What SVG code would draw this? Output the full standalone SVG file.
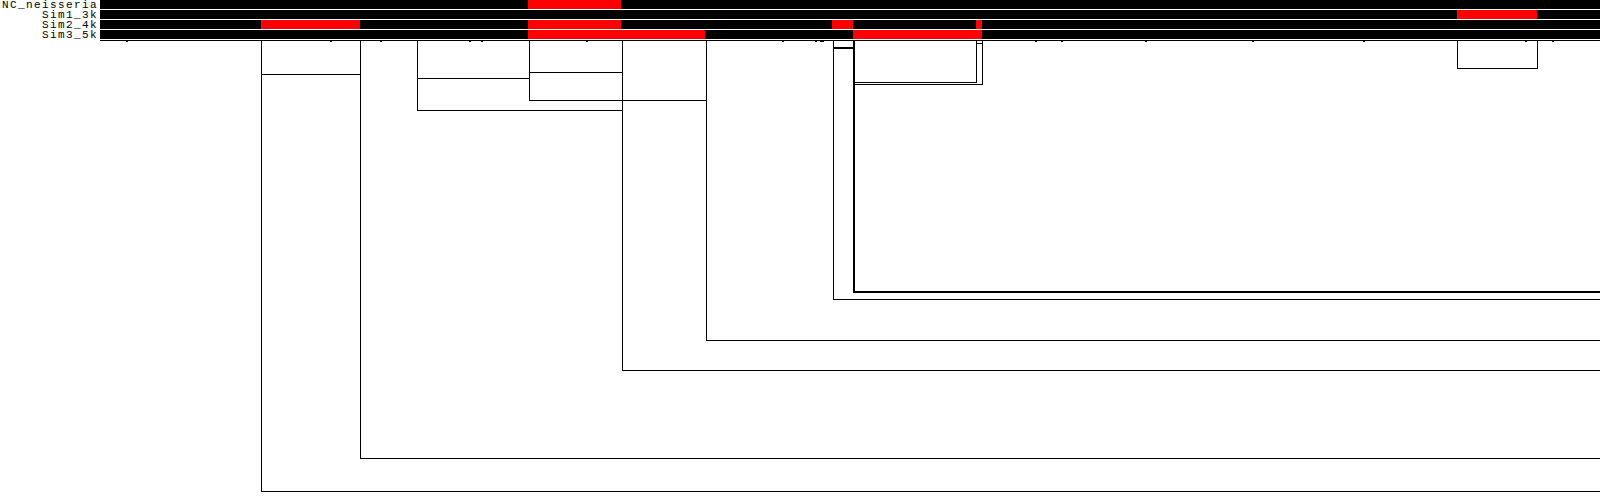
<svg xmlns="http://www.w3.org/2000/svg" width="1600" height="496" viewBox="0 0 1600 496">
<style>
.lbl{font-family:"Liberation Mono","DejaVu Sans Mono",monospace;font-size:11px;letter-spacing:1.4px;fill:#000;text-anchor:end}
.trk{fill:#000}
.rec{fill:#ff0000}
.tk{fill:#000}
.ln{stroke:#000;stroke-width:1;fill:none}
.ln2{stroke:#000;stroke-width:2;fill:none}
</style>
<rect width="1600" height="496" fill="#fff"/>
<g shape-rendering="crispEdges">
<g id="NC_neisseria">
<text class="lbl" x="98" y="8">NC_neisseria</text>
<rect class="trk" x="100" y="0" width="1500" height="9"/>
<rect class="rec" x="528" y="0" width="93" height="9"/>
</g>
<g id="Sim1_3k">
<text class="lbl" x="98" y="18">Sim1_3k</text>
<rect class="trk" x="100" y="10" width="1500" height="9"/>
<rect class="rec" x="1457" y="10" width="80" height="9"/>
</g>
<g id="Sim2_4k">
<text class="lbl" x="98" y="28">Sim2_4k</text>
<rect class="trk" x="100" y="20" width="1500" height="9"/>
<rect class="rec" x="261" y="20" width="99" height="9"/>
<rect class="rec" x="528" y="20" width="93" height="9"/>
<rect class="rec" x="832" y="20" width="21" height="9"/>
<rect class="rec" x="976" y="20" width="6" height="9"/>
</g>
<g id="Sim3_5k">
<text class="lbl" x="98" y="38">Sim3_5k</text>
<rect class="trk" x="100" y="30" width="1500" height="9"/>
<rect class="rec" x="528" y="30" width="177" height="9"/>
<rect class="rec" x="853" y="30" width="129" height="9"/>
</g>
<g id="axis">
<rect class="trk" x="100" y="40" width="1500" height="1"/>
<rect class="tk" x="126" y="41" width="2" height="1"/>
<rect class="tk" x="330" y="41" width="2" height="1"/>
<rect class="tk" x="380" y="41" width="2" height="1"/>
<rect class="tk" x="469" y="41" width="2" height="1"/>
<rect class="tk" x="481" y="41" width="2" height="1"/>
<rect class="tk" x="586" y="41" width="2" height="1"/>
<rect class="tk" x="782" y="41" width="2" height="1"/>
<rect class="tk" x="815" y="41" width="2" height="1"/>
<rect class="tk" x="820" y="41" width="4" height="1"/>
<rect class="tk" x="1035" y="41" width="2" height="1"/>
<rect class="tk" x="1061" y="41" width="2" height="1"/>
<rect class="tk" x="1145" y="41" width="2" height="1"/>
<rect class="tk" x="1252" y="41" width="2" height="1"/>
<rect class="tk" x="1363" y="41" width="2" height="1"/>
<rect class="tk" x="1525" y="41" width="2" height="1"/>
<rect class="tk" x="1552" y="41" width="2" height="1"/>
</g>
<g id="connectors">
<path class="ln" d="M261.5 41V491.5H1600"/>
<path class="ln" d="M261 74.5H361"/>
<path class="ln" d="M360.5 41V458.5H1600"/>
<path class="ln" d="M417.5 41V110.5H623"/>
<path class="ln" d="M417 78.5H530"/>
<path class="ln" d="M529.5 41V100.5H707"/>
<path class="ln" d="M529 72.5H623"/>
<path class="ln" d="M622.5 41V370.5H1600"/>
<path class="ln" d="M706.5 41V340.5H1600"/>
<path class="ln" d="M833.5 41V299.5H1600"/>
<path class="ln2" d="M833 48H855"/>
<path class="ln2" d="M854 41V292H1600"/>
<path class="ln" d="M853 82.5H976.5V41"/>
<path class="ln" d="M853 84.5H982.5V41"/>
<path class="ln" d="M976 43.5H983"/>
<path class="ln" d="M1457.5 41V68.5H1537.5V41"/>
</g>
</g>
</svg>
